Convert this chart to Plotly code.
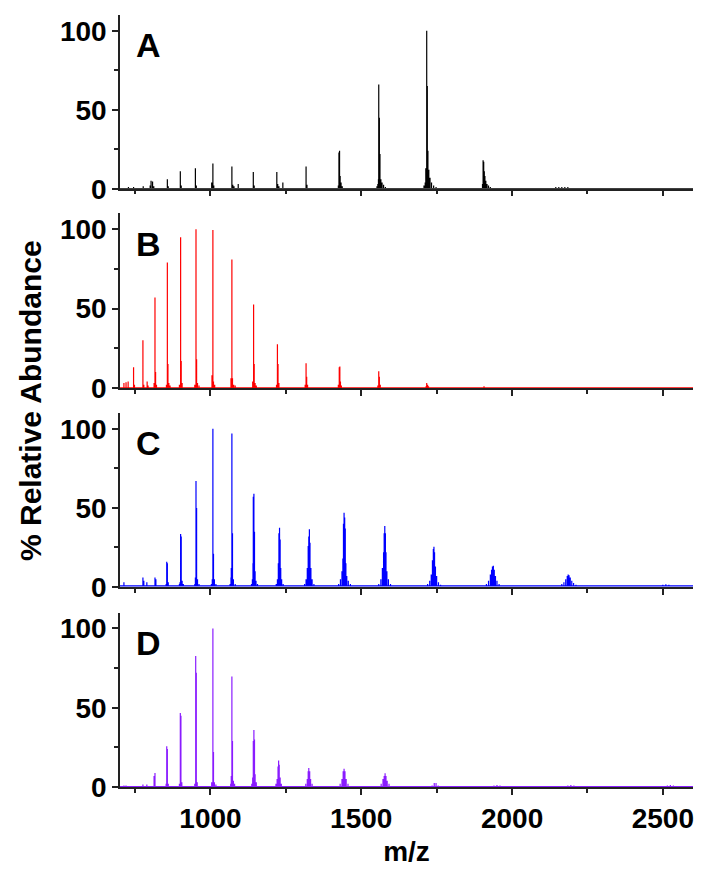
import plotly.graph_objects as go

# ---------------- data ----------------
x_range = [700, 2600]
panel_labels = ["A", "B", "C", "D"]
colors = ["#000000", "#ff0000", "#0000ff", "#8a1cff"]
baselines = [0.0, 0.0, 0.8, 0.3]

mz_A = [728, 745, 777, 800, 803, 808, 812, 857, 860, 900, 903, 950, 953, 1004, 1008, 1011,
        1071, 1074, 1078, 1092, 1142, 1145, 1220, 1223, 1227, 1240, 1317, 1320,
        1424, 1426, 1428, 1430, 1433, 1437,
        1552, 1555, 1557, 1558, 1560, 1562, 1565, 1569, 1574, 1580,
        1708, 1712, 1714, 1716, 1717, 1719, 1721, 1724, 1728, 1733, 1740, 1748,
        1902, 1904, 1906, 1908, 1910, 1913, 1917, 1922, 1928,
        2145, 2155, 2165, 2175, 2185]
int_A = [1, 1, 1.5, 2, 5, 4.5, 1.5, 6, 1.5, 11, 2, 13, 2, 4, 16, 2,
         14, 2.5, 1.5, 3, 10.5, 2, 10.5, 3, 1.5, 4, 14, 2.5,
         2, 23, 24, 8, 4, 1.5,
         1.5, 3, 6, 66, 45, 22, 6, 4, 2.5, 1,
         2, 4, 13, 12, 100, 65, 24, 12, 7, 4, 2, 1,
         3, 18, 17, 11, 8, 5, 3, 2, 1,
         1, 1, 1, 1, 1]

mz_B = [713, 720, 727, 745, 748, 776, 779, 790, 793, 813, 816, 818, 821,
        854, 857, 859, 862, 866, 897, 901, 903, 906, 948, 952, 954, 957, 962,
        1005, 1008, 1010, 1014, 1068, 1071, 1073, 1077, 1082,
        1140, 1143, 1145, 1148, 1152, 1219, 1222, 1224, 1227,
        1314, 1317, 1319, 1322, 1424, 1427, 1429, 1431, 1434,
        1555, 1558, 1560, 1563, 1715, 1717, 1720, 1723, 1907]
int_B = [3, 3.5, 4, 13, 2, 30, 2, 4, 1.5, 3, 57, 10, 2,
         2, 79, 15, 3, 1.5, 2, 95, 17, 3, 2, 100, 18, 3, 1.5,
         8, 99.5, 4, 2, 6, 81, 6, 2, 1.5,
         4, 52.5, 15, 3, 1.5, 2, 27.5, 15, 3,
         2, 15.5, 7, 2, 2, 13, 13.5, 4, 1.5,
         1.5, 10.5, 7, 2, 1, 3, 2, 1, 1]

mz_C = [713, 776, 779, 789, 816, 819, 853, 855, 857, 860,
        897, 899, 901, 903, 906, 910, 948, 950, 952, 954, 957, 962,
        1003, 1006, 1008, 1010, 1013, 1018, 1065, 1068, 1069, 1071, 1073, 1076, 1082,
        1136, 1139, 1141, 1142, 1144, 1146, 1148, 1151, 1156,
        1218, 1222, 1225, 1227, 1229, 1231, 1233, 1236, 1241,
        1312, 1317, 1321, 1324, 1326, 1328, 1330, 1333, 1337, 1343,
        1425, 1431, 1436, 1439, 1441, 1443, 1445, 1447, 1449, 1452, 1457, 1464,
        1558, 1565, 1570, 1574, 1576, 1578, 1580, 1582, 1585, 1590, 1597,
        1720, 1727, 1732, 1736, 1739, 1741, 1743, 1746, 1750, 1756, 1763,
        1915, 1922, 1928, 1932, 1935, 1938, 1941, 1945, 1950, 1957,
        2165, 2172, 2178, 2183, 2186, 2189, 2193, 2198, 2204, 2212,
        2500, 2510, 2520, 2530]
int_C = [3, 6, 4, 3, 6, 5, 2, 16, 15, 3,
         2, 3, 33.5, 32, 4, 2, 2, 6, 67, 50, 5, 2,
         2, 5, 100, 21, 5, 2, 2, 6, 12, 97, 34, 5, 2,
         2, 5, 15, 57, 59, 35, 10, 4, 2,
         2, 5, 15, 34, 37.5, 30, 12, 5, 2,
         2, 5, 12, 26, 32, 36.5, 28, 12, 5, 2,
         2, 5, 10, 18, 40, 47, 44, 37, 15, 7, 4, 2,
         2, 5, 12, 22, 34, 38.5, 34, 22, 10, 5, 2,
         2, 4, 8, 17, 24, 25.5, 22, 13, 7, 3, 1.5,
         2, 4, 8, 11, 13, 13.5, 11, 7, 4, 2,
         2, 3, 5, 7, 8, 7.5, 6, 4, 2.5, 1.5,
         1.5, 1.8, 1.5, 1.2]

mz_D = [713, 720, 776, 789, 813, 816, 853, 855, 857, 860,
        897, 900, 902, 905, 948, 951, 953, 956,
        1004, 1008, 1010, 1013, 1018, 1067, 1069, 1071, 1073, 1076, 1080,
        1137, 1140, 1142, 1144, 1146, 1148, 1152,
        1217, 1221, 1224, 1226, 1228, 1231, 1235,
        1316, 1321, 1324, 1326, 1329, 1332, 1337,
        1430, 1436, 1440, 1443, 1446, 1450, 1456,
        1566, 1572, 1576, 1579, 1582, 1586, 1592,
        1735, 1742, 1748, 1755, 1940, 1950, 1960,
        2185, 2195, 2205, 2515, 2525, 2535]
int_D = [1, 1, 1.5, 1.5, 7, 8.8, 2, 25.7, 24, 2,
         2, 46.6, 45, 3, 2, 82.6, 72, 3,
         3, 100, 22, 3, 1.5, 2, 7, 69.7, 29, 4, 2,
         2, 6, 29, 36, 30, 8, 3,
         2, 5, 13, 16.7, 14, 6, 2,
         2, 5, 10, 12, 10, 5, 2,
         2, 5, 10, 11.5, 10, 5, 2,
         2, 5, 7, 8.6, 7, 4, 2,
         1, 2.5, 2.5, 1, 1, 1.2, 1,
         1, 1.2, 1, 1, 1.2, 1]

spectra = [(mz_A, int_A), (mz_B, int_B), (mz_C, int_C), (mz_D, int_D)]

y_range = [0, 110]

# ---------------- figure ----------------
FONT = "Liberation Sans, Arial, sans-serif"
fig = go.Figure()

# panel vertical domains (paper fractions), top to bottom
domains = [[0.775, 1.0], [0.517, 0.743], [0.259, 0.4846], [0.0, 0.226]]

for i, ((mz, inten), col, base) in enumerate(zip(spectra, colors, baselines)):
    xs = [x_range[0]]
    ys = [base]
    for m, h in zip(mz, inten):
        xs += [m, m, m]
        ys += [base, h, base]
    xs.append(x_range[1])
    ys.append(base)
    sfx = "" if i == 0 else str(i + 1)
    fig.add_trace(go.Scatter(x=xs, y=ys, mode="lines",
                             line=dict(color=col, width=1.2, simplify=False),
                             xaxis="x" + sfx, yaxis="y" + sfx,
                             showlegend=False, hoverinfo="skip"))

axis_line = dict(showline=True, linecolor="#222222", linewidth=1.5,
                 showgrid=False, zeroline=False, ticks="outside",
                 tickwidth=1.5, tickcolor="#222222")
tickfont = dict(family=FONT, size=28, color="#000000", weight="bold")

layout = dict(width=703, height=871,
              margin=dict(l=120, r=9, t=15, b=78),
              plot_bgcolor="white", paper_bgcolor="white")

for i in range(4):
    sfx = "" if i == 0 else str(i + 1)
    xa = dict(axis_line, range=x_range, anchor="y" + sfx, domain=[0, 1],
              tick0=0, dtick=500, ticklen=6,
              minor=dict(ticks="outside", dtick=250, ticklen=4, tickwidth=1.5,
                         tickcolor="#222222"),
              showticklabels=(i == 3), tickfont=tickfont)
    if i > 0:
        xa["matches"] = "x"
    ya = dict(axis_line, range=y_range, anchor="x" + sfx, domain=domains[i],
              tick0=0, dtick=50, ticklen=6,
              minor=dict(ticks="outside", dtick=25, ticklen=4, tickwidth=1.5,
                         tickcolor="#222222"),
              tickfont=tickfont)
    layout["xaxis" + sfx] = xa
    layout["yaxis" + sfx] = ya

layout["xaxis4"]["title"] = dict(text="m/z", font=dict(family=FONT, size=28,
                                                       color="#000000", weight="bold"),
                                 standoff=8)

annotations = []
for i, lab in enumerate(panel_labels):
    sfx = "" if i == 0 else str(i + 1)
    annotations.append(dict(text=lab, xref="x" + sfx + " domain", yref="y" + sfx + " domain",
                            x=0.024, y=0.826, xanchor="left", yanchor="middle",
                            showarrow=False,
                            font=dict(family=FONT, size=34, color="#000000", weight="bold")))
annotations.append(dict(text="% Relative Abundance", xref="paper", yref="paper",
                        x=-0.157, y=0.5, xanchor="center", yanchor="middle",
                        textangle=-90, showarrow=False,
                        font=dict(family=FONT, size=30, color="#000000", weight="bold")))
layout["annotations"] = annotations

fig.update_layout(**layout)
fig.write_html("out.html")
